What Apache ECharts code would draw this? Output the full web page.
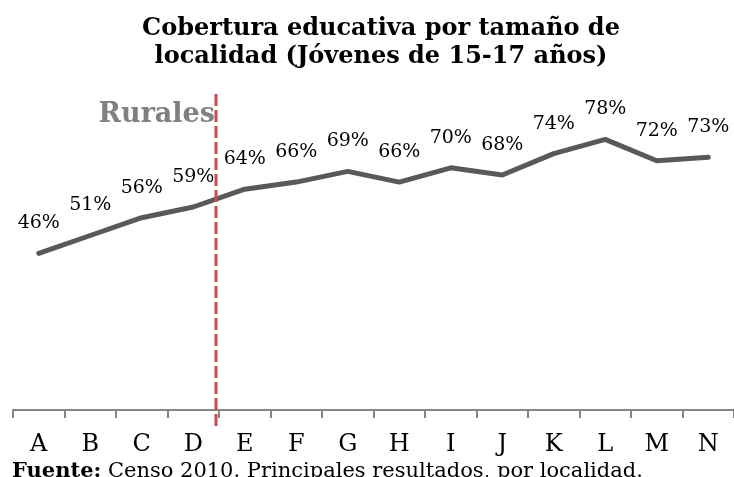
<!DOCTYPE html>
<html>
<head>
<meta charset="utf-8">
<script src="https://cdn.jsdelivr.net/npm/echarts@6/dist/echarts.min.js"></script>
<style>html,body{margin:0;padding:0;background:#fff;}#c{width:734px;height:477px;}</style>
</head>
<body>
<div id="c"></div>
<script>
var categories = ['A','B','C','D','E','F','G','H','I','J','K','L','M','N'];
var coverage = [46, 51, 56, 59, 64, 66, 69, 66, 70, 68, 74, 78, 72, 73];
var titleText = 'Cobertura educativa por tamaño de\nlocalidad (Jóvenes de 15-17 años)';
var ruralLabel = 'Rurales';
var ruralLastIndex = 3; // last rural category (D)
var sourceBold = 'Fuente:';
var sourceText = ' Censo 2010. Principales resultados, por localidad.';

var serif = 'DejaVu Serif';
var chart = echarts.init(document.getElementById('c'));
chart.setOption({
  animation: false,
  backgroundColor: '#ffffff',
  title: {
    text: titleText,
    left: 376, top: 10, textAlign: 'center',
    textStyle: { fontFamily: serif, fontWeight: 'bold', fontSize: 24, lineHeight: 28, color: '#000' }
  },
  grid: { left: 13, right: -1, top: 61, bottom: 67, containLabel: false },
  xAxis: {
    type: 'category', data: categories, boundaryGap: true,
    axisLine: { show: true, lineStyle: { color: '#868686', width: 2 } },
    axisTick: { show: true, length: 8, lineStyle: { color: '#868686', width: 2 }, alignWithLabel: false },
    axisLabel: { fontFamily: serif, fontSize: 24, color: '#000', margin: 23 },
    splitLine: { show: false }
  },
  yAxis: {
    type: 'value', min: 2, max: 100, show: false, splitLine: { show: false }
  },
  series: [{
    type: 'line', data: coverage, symbol: 'circle', symbolSize: 1, showSymbol: true,
    itemStyle: { color: '#595959' },
    lineStyle: { color: '#595959', width: 5, cap: 'round', join: 'round' },
    label: {
      show: true, position: 'top', distance: 20,
      formatter: function (p) { return p.value + '%'; },
      fontFamily: serif, fontSize: 19, color: '#000'
    },
    labelLayout: { hideOverlap: false }
  }]
});

function place() {
  var xa = chart.convertToPixel({ xAxisIndex: 0 }, categories[ruralLastIndex]);
  var xb = chart.convertToPixel({ xAxisIndex: 0 }, categories[ruralLastIndex + 1]);
  var xLine = (xa + xb) / 2 - 3;
  var yTop = chart.convertToPixel({ yAxisIndex: 0 }, 90.7);
  var yBot = chart.convertToPixel({ yAxisIndex: 0 }, -3.2);
  chart.setOption({
    graphic: [
      { type: 'line', shape: { x1: xLine, y1: yTop, x2: xLine, y2: yBot },
        style: { stroke: '#c0504d', lineWidth: 3, lineDash: [12, 4] }, z: 100 },
      { type: 'text', x: xLine - 1, y: yTop + 21,
        style: { text: ruralLabel, fill: '#808080', font: 'bold 27px "DejaVu Serif"', textAlign: 'right', textVerticalAlign: 'middle' }, z: 99 },
      { type: 'text', x: 12, y: 461,
        style: { rich: { b: { fontFamily: serif, fontWeight: 'bold', fontSize: 21, fill: '#000' }, n: { fontFamily: serif, fontSize: 21, fill: '#000' } },
          text: '{b|' + sourceBold + '}{n|' + sourceText + '}', textVerticalAlign: 'top' }, z: 99 }
    ]
  });
}
place();
</script>
</body>
</html>
